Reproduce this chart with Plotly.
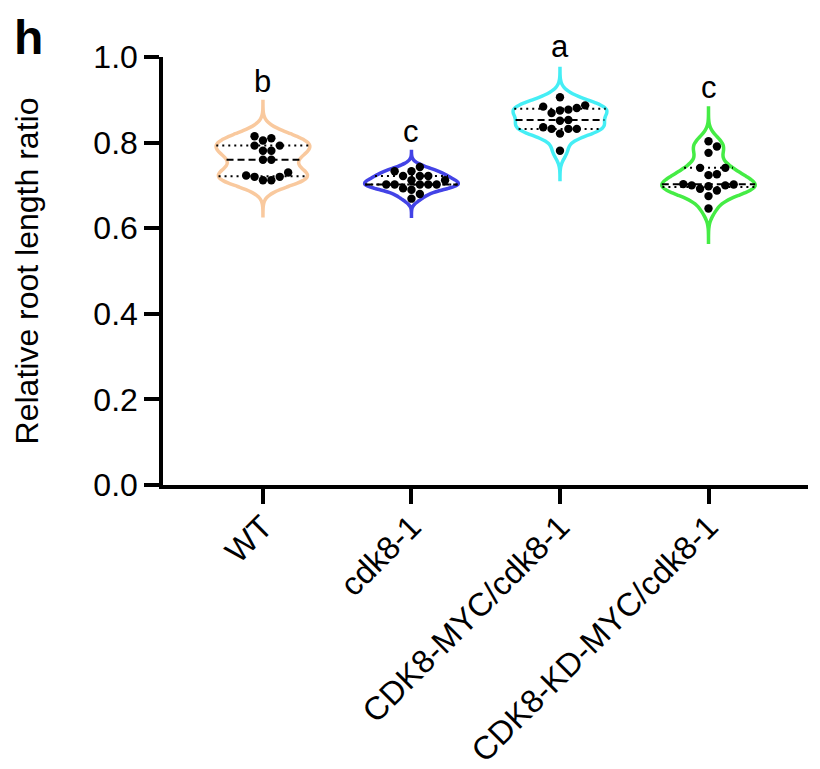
import numpy as np
import plotly.graph_objects as go

groups = ["WT", "cdk8-1", "CDK8-MYC/cdk8-1", "CDK8-KD-MYC/cdk8-1"]
letters = ["b", "c", "a", "c"]
colors = ["#F9C99E", "#4343E6", "#45EEF5", "#45EC45"]

wt = [0.815, 0.810, 0.805, 0.793, 0.793, 0.781, 0.781, 0.760, 0.760,
      0.730, 0.723, 0.720, 0.720, 0.712, 0.712]
cdk8 = [0.743, 0.733, 0.733, 0.722, 0.722, 0.722, 0.712, 0.712, 0.702,
        0.702, 0.702, 0.702, 0.702, 0.693, 0.690, 0.680, 0.669]
cdk8_myc = [0.906, 0.887, 0.884, 0.881, 0.877, 0.875, 0.869, 0.853, 0.851,
            0.836, 0.832, 0.832, 0.832, 0.821, 0.781]
cdk8_kd = [0.803, 0.791, 0.776, 0.741, 0.741, 0.726, 0.724, 0.703, 0.702,
           0.700, 0.700, 0.698, 0.692, 0.688, 0.675, 0.646]
series = [wt, cdk8, cdk8_myc, cdk8_kd]

# violin extent (kde tails) and kernel bandwidth per group
violin_span = [[0.629, 0.896], [0.628, 0.779], [0.714, 0.977], [0.567, 0.881]]
bandwidth = [0.021, 0.0105, 0.018, 0.0195]

VW = 0.63            # violin full width (data units)
PX_X = 148.5         # px per x unit
PX_Y = 428.5         # px per y unit
DOT = 8.4            # dot diameter in px
FONT = "Arial, Liberation Sans, sans-serif"


def kde(vals, bw, t):
    v = np.asarray(vals)
    t = np.atleast_1d(t)
    return np.exp(-0.5 * ((t[:, None] - v[None, :]) / bw) ** 2).sum(1)


def swarm(vals):
    # simple beeswarm: put each point at the nearest free slot
    order = np.argsort(vals)
    placed = []
    offs = np.zeros(len(vals))
    for i in order:
        y = vals[i] * PX_Y
        for k in [0, 1, -1, 2, -2, 3, -3, 4, -4]:
            x = k * DOT
            if all((x - px) ** 2 + (y - py) ** 2 >= DOT ** 2 * 0.95 for px, py in placed):
                break
        placed.append((x, y))
        offs[i] = x / PX_X
    return offs


fig = go.Figure()

for i, (name, vals) in enumerate(zip(groups, series)):
    lo, hi = violin_span[i]
    bw = bandwidth[i]
    fig.add_trace(go.Violin(
        y=vals, x0=i, name=name, width=VW, spanmode="manual", span=[lo, hi],
        bandwidth=bw, points=False, box_visible=False, meanline_visible=False,
        line=dict(color=colors[i], width=3.5), fillcolor="rgba(255,255,255,0)",
        hoverinfo="skip", showlegend=False))

    grid = np.linspace(lo, hi, 400)
    dmax = kde(vals, bw, grid).max()
    q1, med, q3 = np.percentile(vals, [25, 50, 75])
    for q, dash in [(q1, "2px,4px"), (q3, "2px,4px"), (med, "7px,4px")]:
        hw = VW / 2 * kde(vals, bw, q)[0] / dmax
        fig.add_trace(go.Scatter(
            x=[i - hw, i + hw], y=[q, q], mode="lines",
            line=dict(color="black", width=2, dash=dash),
            hoverinfo="skip", showlegend=False))

    arr = np.array(vals)
    fig.add_trace(go.Scatter(
        x=i + swarm(arr), y=arr, mode="markers",
        marker=dict(color="black", size=DOT),
        hoverinfo="skip", showlegend=False))

    # significance letter just above the violin tip
    fig.add_annotation(x=i, y=hi + 0.047, xref="x", yref="y domain", text=letters[i],
                       showarrow=False, yanchor="middle",
                       font=dict(size=31, color="black", family=FONT))

fig.add_annotation(x=-0.209, y=1.045, xref="paper", yref="paper", text="<b>h</b>",
                   showarrow=False, xanchor="center", yanchor="middle",
                   font=dict(size=48, color="black", family=FONT))

fig.update_xaxes(range=[-0.673, 3.67], tickmode="array", tickvals=list(range(len(groups))),
                 ticktext=groups, tickangle=-45, showline=True, linecolor="black",
                 linewidth=3.5, ticks="outside", ticklen=15, tickwidth=3.5,
                 tickcolor="black", showgrid=False, zeroline=False, ticklabelstandoff=-9,
                 tickfont=dict(size=32.5, color="black", family=FONT))
fig.update_yaxes(range=[0, 1.0], tickvals=[0, 0.2, 0.4, 0.6, 0.8, 1.0], tickformat=".1f",
                 showline=True, linecolor="black", linewidth=3.5, ticks="outside",
                 ticklen=15, tickwidth=3.5, tickcolor="black", showgrid=False,
                 zeroline=False, tickfont=dict(size=32, color="black", family=FONT),
                 title=dict(text="Relative root length ratio", standoff=46,
                            font=dict(size=32, color="black", family=FONT)))

fig.update_layout(width=820, height=769, violinmode="overlay",
                  margin=dict(l=155, r=20, t=49, b=292, autoexpand=False),
                  plot_bgcolor="white", paper_bgcolor="white",
                  font=dict(family=FONT, color="black"))

fig.write_html("out.html")
